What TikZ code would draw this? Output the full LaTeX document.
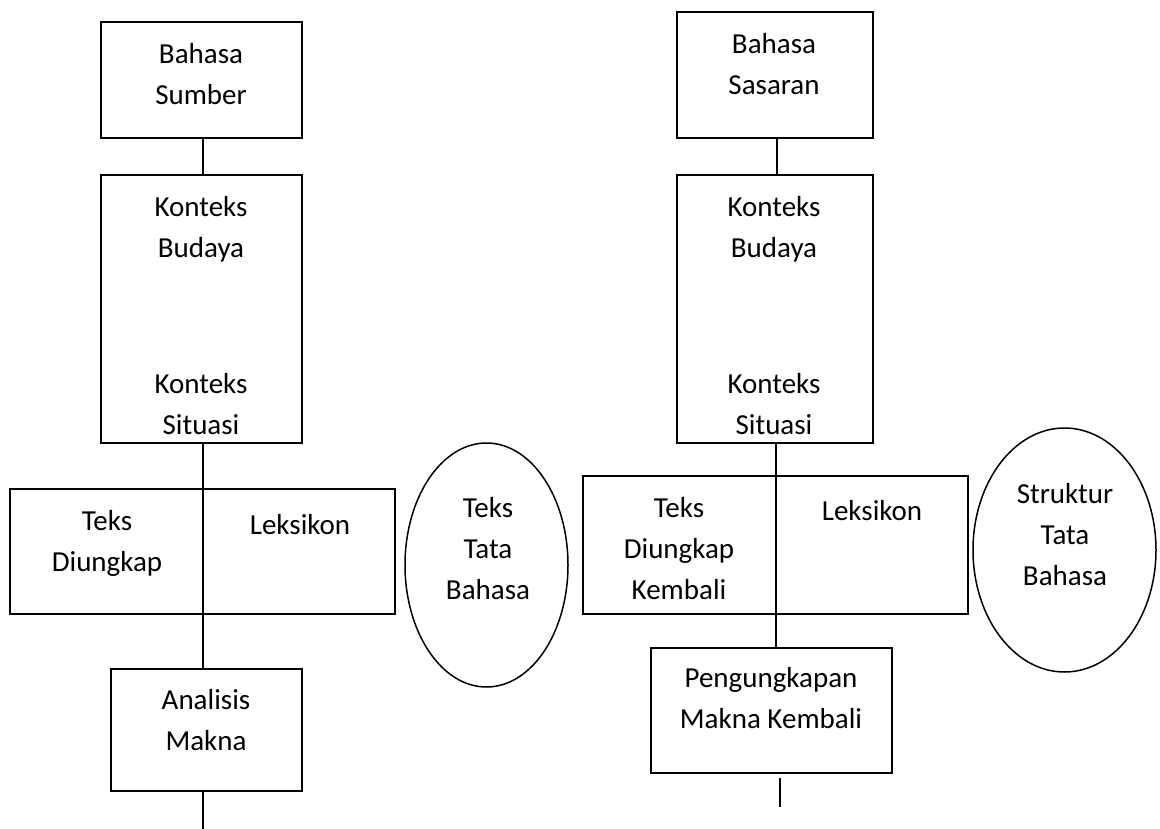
\documentclass[tikz,border=0pt]{standalone}
\usepackage{fontspec}
\setmainfont{Carlito}
\usetikzlibrary{shapes.geometric}
\newcommand{\lnstrut}{\rule[-0.2em]{0pt}{1.2em}}
\tikzset{
  box/.style={draw, line width=1.5pt, rectangle, inner sep=0pt, outer sep=0pt},
  oval/.style={draw, line width=1.5pt, ellipse, inner sep=0pt, outer sep=0pt},
  txt/.style={align=center, inner sep=0pt, yshift=-4pt, font=\fontsize{29}{41}\selectfont,
    execute at begin node=\lnstrut, execute at end node=\lnstrut},
  link/.style={line width=1.5pt}
}
\begin{document}
\begin{tikzpicture}[x=1pt, y=-1pt]
\useasboundingbox (0,0) rectangle (1160,829);
% left column
\node[box, minimum width=201pt, minimum height=116pt] (lb1) at (201.5,80) {};
\node[box, minimum width=201pt, minimum height=268pt] (lb2) at (201.5,309) {};
\node[box, minimum width=385pt, minimum height=125pt] (lb3) at (202.5,551.5) {};
\node[box, minimum width=191pt, minimum height=122pt] (lb4) at (206.5,730) {};
\node[oval, minimum width=163pt, minimum height=244pt] (le) at (486.5,565) {};
\coordinate (lend) at (203,829);
\node[txt] (lt1) at (201,72.5) {Bahasa\\Sumber};
\node[txt] (lt2) at (201,226) {Konteks\\Budaya};
\node[txt] (lt3) at (201,403) {Konteks\\Situasi};
\node[txt] (lt4) at (107,540) {Teks\\Diungkap};
\node[txt] (lt5) at (300,519) {Leksikon};
\node[txt] (lt6) at (206,719) {Analisis\\Makna};
\node[txt] (lt7) at (488,547) {Teks\\Tata\\Bahasa};
\draw[link] ([xshift=1.5pt]lb1.south) -- ([xshift=1.5pt]lb2.north);
\draw[link] ([xshift=1.5pt]lb2.south) -- ([xshift=1.5pt]lb2.south |- lb4.north);
\draw[link] (lb4.south -| lend) -- (lend);
% right column
\node[box, minimum width=196pt, minimum height=126pt] (rb1) at (775,75) {};
\node[box, minimum width=196pt, minimum height=268pt] (rb2) at (775,309) {};
\node[box, minimum width=385pt, minimum height=138pt] (rb3) at (775.5,545) {};
\node[box, minimum width=241pt, minimum height=125pt] (rb4) at (771.5,710.5) {};
\node[oval, minimum width=183pt, minimum height=244pt] (re) at (1064.5,550) {};
\coordinate (rstart) at (780,778);
\coordinate (rend) at (780,807);
\node[txt] (rt1) at (774,62.5) {Bahasa\\Sasaran};
\node[txt] (rt2) at (774,226) {Konteks\\Budaya};
\node[txt] (rt3) at (774,403) {Konteks\\Situasi};
\node[txt] (rt4) at (679,547) {Teks\\Diungkap\\Kembali};
\node[txt] (rt5) at (872,505) {Leksikon};
\node[txt] (rt6) at (771,697) {Pengungkapan\\Makna Kembali};
\node[txt] (rt7) at (1065,533) {Struktur\\Tata\\Bahasa};
\draw[link] ([xshift=2pt]rb1.south) -- ([xshift=2pt]rb2.north);
\draw[link] ([xshift=1pt]rb2.south) -- ([xshift=1pt]rb2.south |- rb4.north);
\draw[link] (rstart) -- (rend);
\end{tikzpicture}
\end{document}
